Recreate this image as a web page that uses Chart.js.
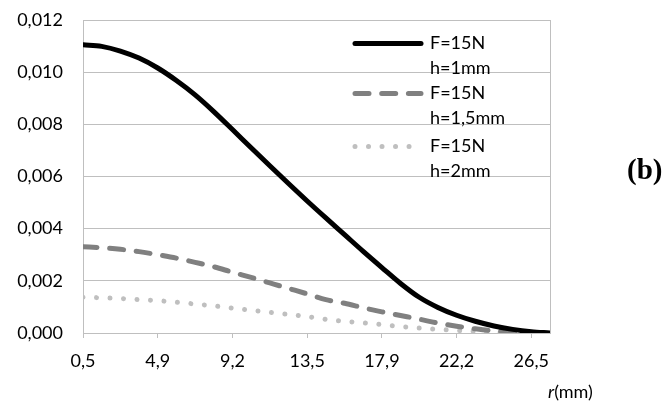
<!DOCTYPE html>
<html>
<head>
<meta charset="utf-8">
<script src="https://cdn.jsdelivr.net/npm/chart.js@4/dist/chart.umd.min.js"></script>
<style>
  html, body { margin: 0; padding: 0; background: #fff; }
  #wrap { position: relative; width: 666px; height: 405px; }
</style>
</head>
<body>
<div id="wrap"><canvas id="c" width="666" height="405"></canvas></div>
<script>
// r (mm) categories
const rLabels = ['0,5','1,6','2,7','3,8','4,9','6,0','7,0','8,1','9,2','10,3','11,4','12,4','13,5',
  '14,6','15,7','16,8','17,9','19,0','20,1','21,1','22,2','23,3','24,4','25,4','26,5','27,6'];
// labelled category positions
const tickIdx = [0, 4, 8, 12, 16, 20, 24];
// F=15N h=1mm
const seriesH1 = [0.01105,0.01099,0.01081,0.01054,0.01016,0.00968,0.00913,0.00849,0.00780,0.00710,
  0.00641,0.00573,0.00506,0.00441,0.00377,0.00313,0.00251,0.00190,0.00137,0.00098,0.00068,0.00045,
  0.00027,0.00014,0.00005,0.00000];
// F=15N h=1,5mm
const seriesH15 = [0.00331,0.00327,0.00321,0.00312,0.00300,0.00287,0.00271,0.00254,0.00233,0.00213,
  0.00192,0.00171,0.00150,0.00128,0.00114,0.00097,0.00081,0.00067,0.00053,0.00038,0.00026,0.00016,
  0.00008,0.00004,0.00001,0.00000];
// F=15N h=2mm
const seriesH2 = [0.00137,0.00135,0.00132,0.00128,0.00124,0.00118,0.00111,0.00104,0.00095,0.00087,
  0.00079,0.00071,0.00063,0.00052,0.00045,0.00039,0.00032,0.00025,0.00019,0.00014,0.00010,0.00007,
  0.00004,0.00002,0.00001,0.00000];
const legendLines = [['F=15N','h=1mm'],['F=15N','h=1,5mm'],['F=15N','h=2mm']];
const yTicks = [0, 0.002, 0.004, 0.006, 0.008, 0.010, 0.012];

const FONT = 'Lato, "Open Sans", sans-serif';
const GRID = '#bfbfbf';
const TEXT = '#000000';
const NONE = 'rgba(0,0,0,0)';

const styles = [
  { color: '#000000', width: 5, dash: [] },
  { color: '#808080', width: 5, dash: [14, 12.7] },
  { color: '#bfbfbf', width: 5, dash: [0.01, 13.5] }
];

const extras = {
  id: 'extras',
  afterDraw(chart) {
    const ctx = chart.ctx;
    const a = chart.chartArea;
    ctx.save();
    // right border of the plot area
    ctx.strokeStyle = GRID; ctx.lineWidth = 1;
    ctx.beginPath(); ctx.moveTo(a.right + 0.5, a.top); ctx.lineTo(a.right + 0.5, a.bottom); ctx.stroke();
    // legend inside the plot
    const ys = [43.5, 93.5, 146.5];
    ctx.lineCap = 'round';
    styles.forEach((s, i) => {
      ctx.strokeStyle = s.color; ctx.lineWidth = s.width; ctx.setLineDash(s.dash);
      ctx.beginPath(); ctx.moveTo(355, ys[i]); ctx.lineTo(421, ys[i]); ctx.stroke();
    });
    ctx.setLineDash([]);
    ctx.fillStyle = TEXT;
    ctx.font = '18px ' + FONT;
    ctx.textBaseline = 'middle'; ctx.textAlign = 'left';
    legendLines.forEach((ln, i) => {
      ctx.fillText(ln[0], 430, ys[i]);
      ctx.fillText(ln[1], 430, ys[i] + 25);
    });
    // axis title r(mm)
    ctx.font = 'italic 18px ' + FONT;
    ctx.fillText('r', 548, 392);
    const w = ctx.measureText('r').width;
    ctx.font = '18px ' + FONT;
    ctx.fillText('(mm)', 548 + w, 392);
    // panel label
    ctx.font = 'bold 29px "Liberation Serif", "Times New Roman", serif';
    ctx.fillText('(b)', 627, 172);
    ctx.restore();
  }
};

const toPts = (arr) => arr.map((v, i) => ({ x: i, y: v }));
const last = rLabels.length - 1;

new Chart(document.getElementById('c'), {
  type: 'line',
  data: {
    datasets: [seriesH1, seriesH15, seriesH2].map((d, i) => ({
      label: legendLines[i].join(' '),
      data: toPts(d),
      borderColor: styles[i].color,
      borderWidth: styles[i].width,
      borderDash: styles[i].dash,
      borderCapStyle: 'round',
      borderJoinStyle: 'round',
      pointRadius: 0,
      fill: false,
      cubicInterpolationMode: 'monotone'
    }))
  },
  options: {
    responsive: false,
    animation: false,
    events: [],
    layout: { padding: { left: 0, top: 20, right: 116, bottom: 0 } },
    plugins: { legend: { display: false }, tooltip: { enabled: false } },
    scales: {
      x: {
        type: 'linear',
        min: 0,
        max: last,
        afterFit(s) { s.height = 72; },
        afterBuildTicks(s) { s.ticks = tickIdx.map(v => ({ value: v })); },
        border: { color: GRID },
        grid: { drawOnChartArea: false, tickLength: 5, color: GRID },
        ticks: {
          autoSkip: false, maxRotation: 0, padding: 12, color: TEXT,
          font: { family: FONT, size: 18 },
          callback: (v) => rLabels[v]
        }
      },
      y: {
        min: 0,
        max: 0.012,
        afterFit(s) { s.width = 83; },
        afterBuildTicks(s) { s.ticks = yTicks.map(v => ({ value: v })); },
        border: { color: GRID },
        grid: { color: GRID, lineWidth: 1, tickLength: 20, tickColor: NONE },
        ticks: {
          padding: 0, color: TEXT,
          font: { family: FONT, size: 18 },
          callback: (v) => v.toFixed(3).replace('.', ',')
        }
      }
    }
  },
  plugins: [extras]
});
</script>
</body>
</html>
